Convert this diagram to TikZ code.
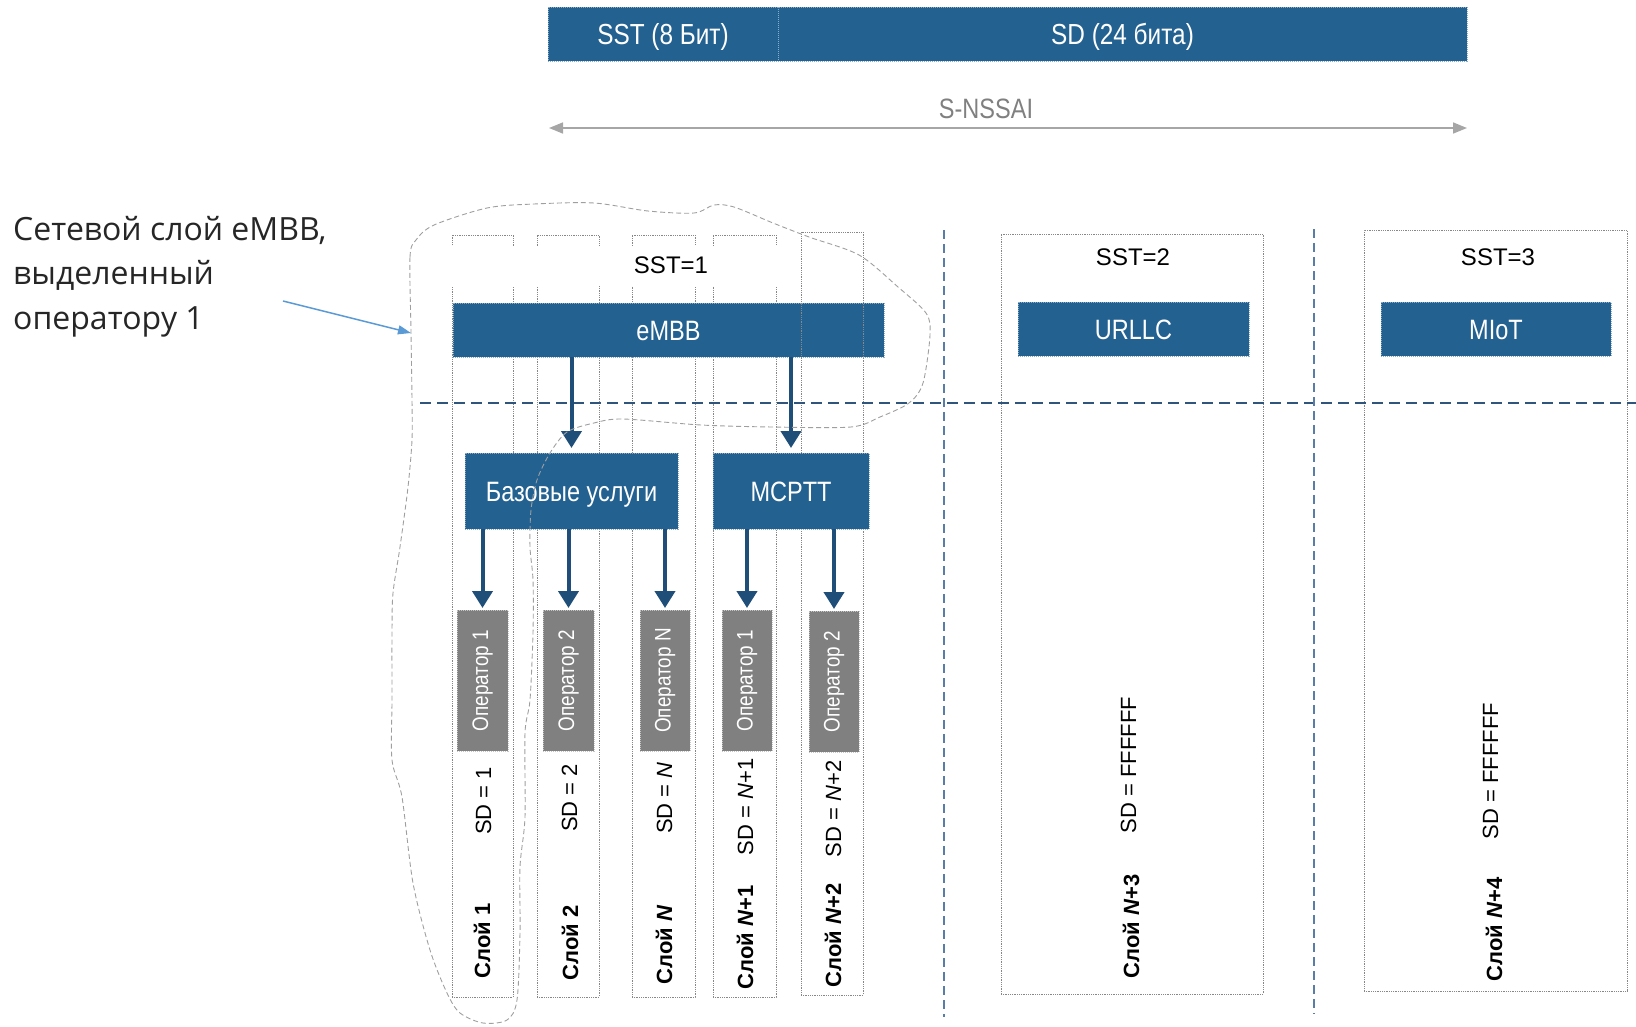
\documentclass[tikz,border=0pt]{standalone}
\usepackage{fontspec}
\usepackage{graphicx}
\setmainfont{Liberation Sans}
\newfontfamily\narrowf[FakeStretch=0.84]{Liberation Sans}
\newfontfamily\segoef{Open Sans}
\usetikzlibrary{arrows.meta}
\definecolor{boxblue}{RGB}{35,97,145}
\definecolor{boxedge}{RGB}{140,172,204}
\definecolor{arrblue}{RGB}{31,78,121}
\definecolor{hblue}{RGB}{47,85,125}
\definecolor{vblue}{RGB}{90,125,165}
\definecolor{colgray}{RGB}{135,135,135}
\definecolor{opgray}{RGB}{128,128,128}
\definecolor{calloutblue}{RGB}{91,155,213}
\definecolor{textgray}{RGB}{128,128,128}
\begin{document}
\begin{tikzpicture}[x=1pt,y=-1pt,
  bluebox/.style={fill=boxblue, draw=boxedge, densely dotted, line width=1pt,
    text=white, inner sep=0pt, outer sep=0pt,
    font=\narrowf\fontsize{28}{32}\selectfont, text height=20pt, text depth=0pt},
  topbox/.style={bluebox, font=\narrowf\fontsize{29}{33}\selectfont, text height=21pt},
  opbox/.style={fill=opgray, draw=gray!45, densely dotted, line width=1pt,
    text=white, inner sep=0pt, outer sep=0pt,
    font=\narrowf\fontsize{22.5}{26}\selectfont},
  colbox/.style={draw=colgray, densely dotted, line width=0.8pt, inner sep=0pt, outer sep=0pt},
  vlabel/.style={rotate=90, inner sep=0pt, font=\fontsize{22}{26}\selectfont, text height=16pt, text depth=0pt},
  vbold/.style={vlabel, font=\bfseries\fontsize{22}{26}\selectfont},
  sstlabel/.style={inner sep=0pt, font=\fontsize{24}{28}\selectfont, text height=17pt, text depth=0pt},
  arr/.style={draw=arrblue, line width=4pt, -{Triangle[length=17pt,width=20pt]}},
  hdash/.style={draw=hblue, line width=1.4pt, dash pattern=on 11pt off 6pt},
  vdash/.style={draw=vblue, line width=1.1pt, dash pattern=on 9pt off 5pt},
  outline/.style={draw=gray!75, line width=0.9pt, dash pattern=on 5pt off 3pt},
  callout/.style={draw=calloutblue, line width=1.5pt, -{Triangle[length=13pt,width=9pt]}},
  dimline/.style={draw=gray!70, line width=1.6pt, {Triangle[length=14pt,width=11pt]}-{Triangle[length=14pt,width=11pt]}}
]
\useasboundingbox (0,0) rectangle (1636,1026);

% top S-NSSAI bar
\node[topbox, minimum width=230pt, minimum height=54pt] (sst) at (663,34) {SST (8 Бит)};
\node[topbox, minimum width=689pt, minimum height=54pt] (sd) at (1122.5,34) {SD (24 бита)};
\node[inner sep=0pt, text=textgray, font=\narrowf\fontsize{28}{32}\selectfont, text height=20pt, text depth=0pt] (nssai) at (986,108) {S-NSSAI};
\coordinate (nl) at (549,128);
\coordinate (nr) at (1467,128);
\draw[dimline] (nl) -- (nr);

% left caption (base anchor = last line baseline)
\node[anchor=base west, align=left, inner sep=0pt, text=black!85,
  font=\segoef\fontsize{32}{44.5}\selectfont] (caption) at (13,329)
  {Сетевой слой eMBB,\\выделенный\\оператору 1};
\coordinate (cstart) at (283,301);

% SST=1 columns
\node[colbox, minimum width=61pt, minimum height=762pt] (c1) at (482.5,616) {};
\node[colbox, minimum width=62pt, minimum height=762pt] (c2) at (568,616) {};
\node[colbox, minimum width=63pt, minimum height=762pt] (c3) at (663.5,616) {};
\node[colbox, minimum width=63pt, minimum height=762pt] (c4) at (744.5,616) {};
\fill[white] (445,246) rectangle (790,286);
\node[sstlabel] (sst1) at (671,265) {SST=1};
\node[bluebox, minimum width=431pt, minimum height=54pt] (embb) at (668.5,330) {eMBB};
\node[colbox, minimum width=62pt, minimum height=763pt] (c5) at (832,613.5) {};

% SST=2 and SST=3 columns
\node[colbox, minimum width=262pt, minimum height=760pt] (c6) at (1132,614) {};
\node[colbox, minimum width=263pt, minimum height=761pt] (c7) at (1495.5,610.5) {};
\node[sstlabel] (sst2) at (1133,257) {SST=2};
\node[sstlabel] (sst3) at (1498,257) {SST=3};
\node[bluebox, minimum width=231pt, minimum height=54pt] (urllc) at (1133.5,329) {URLLC};
\node[bluebox, minimum width=230pt, minimum height=54pt] (miot) at (1496,329) {MIoT};

% dashed separators
\draw[hdash] (420,403) -- (1636,403);
\draw[vdash] (944,230) -- (944,1017);
\draw[vdash] (1314,229) -- (1314,1014);

% service boxes
\node[bluebox, minimum width=213pt, minimum height=76pt] (bas) at (571.5,491) {Базовые услуги};
\node[bluebox, minimum width=156pt, minimum height=76pt] (mcptt) at (791,491) {MCPTT};

% operator boxes
\node[opbox, minimum width=51pt, minimum height=141pt] (op1) at (482.5,680.5) {\rotatebox{90}{Оператор 1}};
\node[opbox, minimum width=51pt, minimum height=141pt] (op2) at (568.5,680.5) {\rotatebox{90}{Оператор 2}};
\node[opbox, minimum width=50pt, minimum height=141pt] (opn) at (665,680.5) {\rotatebox{90}{Оператор N}};
\node[opbox, minimum width=50pt, minimum height=141pt] (op4) at (747,680.5) {\rotatebox{90}{Оператор 1}};
\node[opbox, minimum width=50pt, minimum height=141pt] (op5) at (834,681.5) {\rotatebox{90}{Оператор 2}};

% arrows
\draw[arr, shorten >=5pt] (embb.south -| bas.north) -- (bas.north);
\draw[arr, shorten >=5pt] (embb.south -| mcptt.north) -- (mcptt.north);
\draw[arr, shorten >=2pt] (bas.south -| op1.north) -- (op1.north);
\draw[arr, shorten >=2pt] (bas.south -| op2.north) -- (op2.north);
\draw[arr, shorten >=2pt] (bas.south -| opn.north) -- (opn.north);
\draw[arr, shorten >=2pt] (mcptt.south -| op4.north) -- (op4.north);
\draw[arr, shorten >=2pt] (mcptt.south -| op5.north) -- (op5.north);

% vertical labels
\node[vlabel] (sd1) at (483,801) {SD = 1};
\node[vbold] (sl1) at (482,941) {Слой 1};
\node[vlabel] (sd2) at (569,798) {SD = 2};
\node[vbold] (sl2) at (570,943) {Слой 2};
\node[vlabel] (sdn) at (664,798) {SD = \textit{N}};
\node[vbold] (sln) at (664,945) {Слой \textit{N}};
\node[vlabel] (sd4) at (745,807) {SD = \textit{N}+1};
\node[vbold] (sl4) at (745,937) {Слой \textit{N}+1};
\node[vlabel] (sd5) at (833,809) {SD = \textit{N}+2};
\node[vbold] (sl5) at (833,935) {Слой \textit{N}+2};
\node[vlabel] (sd6) at (1128,765) {SD = FFFFFF};
\node[vbold] (sl6) at (1131,926) {Слой \textit{N}+3};
\node[vlabel] (sd7) at (1490,771) {SD = FFFFFF};
\node[vbold] (sl7) at (1494,929) {Слой \textit{N}+4};

% operator-1 slice outline
\draw[outline] plot[smooth cycle, tension=0.5] coordinates {
  (411,332) (410,257) (416,240) (434,225) (487,208) (534,204) (594,203)
  (648,211) (694,213) (714,205) (734,207) (773,223) (809,237) (859,255)
  (898,287) (926,313) (930,335) (923,383) (909,403) (880,417) (851,427)
  (773,427) (701,425) (623,419) (594,423) (567,432) (550,453) (537,480)
  (531,510) (530,547) (533,580) (533,633) (530,700) (525,733) (525,817)
  (520,867) (520,933) (517,1000) (507,1020) (483,1023) (460,1013)
  (447,993) (430,950) (413,883) (402,797) (392,760) (392,700) (392,633)
  (393,593) (400,547) (408,487) (412,440) (412,400)};
\coordinate (oedge) at (411,333);
\draw[callout] (cstart) -- (oedge);
\end{tikzpicture}
\end{document}
